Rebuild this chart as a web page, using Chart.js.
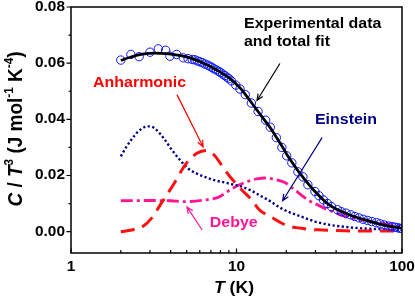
<!DOCTYPE html>
<html>
<head>
<meta charset="utf-8">
<script src="https://cdn.jsdelivr.net/npm/chart.js@4.4.0/dist/chart.umd.min.js"></script>
<style>
    html, body { margin: 0; padding: 0; background: #fff; }
</style>
</head>
<body>
<canvas id="myChart" width="415" height="300"></canvas>
<script>
// experimental C/T^3 points (T in K)
const expT = [2.0, 2.3, 2.58, 3.0, 3.37, 3.73, 3.96, 4.35, 4.77, 5.1, 5.4, 5.6, 5.8, 6.0, 6.2, 6.45, 6.7, 6.9, 7.1, 7.3,
    7.55, 7.8, 8.0, 8.25, 8.5, 8.75, 9.0, 9.3, 9.9, 10.5, 11.3, 12.3, 13.5, 15.0, 16.0, 17.4, 18.8, 20.1, 21.6, 23.5,
    25.2, 27.0, 29.8, 31.5, 33.5, 35.5, 37.5, 40.8, 43.0, 45.9, 49.0, 51.8, 55.0, 58.3, 62.0, 65.6, 70.0, 73.8, 78.0, 83.1,
    87.0, 90.8, 94.0, 97.0, 100];
const expC = [0.0611, 0.0631, 0.0623, 0.0639, 0.0651, 0.0646, 0.0625, 0.0631, 0.0619, 0.0616, 0.0613, 0.0612, 0.0608, 0.0605, 0.0602, 0.0597, 0.0593, 0.0589, 0.0585, 0.0580,
    0.0576, 0.0571, 0.0567, 0.0561, 0.0556, 0.0550, 0.0545, 0.0537, 0.0522, 0.0508, 0.0488, 0.0458, 0.0428, 0.0397, 0.0372, 0.0335, 0.0300, 0.0270, 0.0245, 0.0213,
    0.0195, 0.0167, 0.0143, 0.0128, 0.0113, 0.0100, 0.0089, 0.0078, 0.0071, 0.0066, 0.0060, 0.0054, 0.0049, 0.0044, 0.0040, 0.0036, 0.0032, 0.0028, 0.0024, 0.0020,
    0.0018, 0.0016, 0.0014, 0.0012, 0.0011];

// total fit
const fitT = [2.0, 2.3, 2.7, 3.2, 3.8, 4.5, 5.25, 6.0, 6.9, 7.9, 9.1, 10.5, 12.3, 13.5, 15.0, 16.0, 17.4, 18.8, 20.1, 21.6,
    23.5, 25.2, 27.0, 29.8, 33.5, 37.5, 40.8, 45.9, 51.8, 58.3, 65.6, 73.8, 83.1, 90.8, 100];
const fitC = [0.0610, 0.0622, 0.0632, 0.0636, 0.0634, 0.0628, 0.0619, 0.0606, 0.0589, 0.0570, 0.0546, 0.0512, 0.0460, 0.0428, 0.0392, 0.0370, 0.0336, 0.0305, 0.0276, 0.0248,
    0.0217, 0.0194, 0.0172, 0.0143, 0.0113, 0.0090, 0.0078, 0.0065, 0.0053, 0.0044, 0.0035, 0.0027, 0.0020, 0.0016, 0.0012];

// anharmonic part
const anhT = [2.0, 2.33, 2.74, 3.07, 3.5, 4.15, 4.5, 5.0, 5.8, 6.6, 7.3, 8.5, 9.3, 11.0, 12.1, 13.8, 16.0, 18.8, 21.2, 24.7, 27.8, 33, 45, 70, 100];
const anhC = [0.0000, 0.0006, 0.0020, 0.0048, 0.0100, 0.0167, 0.0203, 0.0245, 0.0280, 0.0289, 0.0274, 0.0220, 0.0190, 0.0143, 0.0119, 0.0077, 0.0054, 0.0030, 0.0018, 0.0012, 0.0008, 0.0006, 0.0003, 0.0002, 0.0002];

// Einstein part
const einT = [2.0, 2.15, 2.34, 2.55, 2.8, 2.93, 3.1, 3.3, 3.66, 4.06, 4.5, 5.1, 5.8, 6.5, 7.5, 8.5, 9.5, 10.8, 12.3, 14.1,
    15.5, 18.8, 21.5, 24.5, 29.8, 36, 45, 60, 80, 100];
const einC = [0.0268, 0.0300, 0.0331, 0.0357, 0.0373, 0.0375, 0.0373, 0.0361, 0.0330, 0.0292, 0.0259, 0.0225, 0.0206, 0.0194, 0.0182, 0.0175, 0.0168, 0.0160, 0.0146, 0.0126,
    0.0113, 0.0082, 0.0066, 0.0054, 0.0036, 0.0025, 0.0017, 0.0011, 0.0008, 0.0006];

// Debye part
const debT = [2.0, 3.0, 4.0, 4.9, 6.5, 7.8, 9.2, 10.5, 12.0, 13.5, 14.8, 17.0, 19.6, 21.5, 23.5, 27.0, 31.0, 35.0, 40.0, 47.0, 60.0, 75.0, 100];
const debC = [0.0110, 0.0111, 0.0110, 0.0107, 0.0113, 0.0123, 0.0150, 0.0168, 0.0181, 0.0189, 0.0191, 0.0186, 0.0175, 0.0158, 0.0140, 0.0113, 0.0095, 0.0080, 0.0066, 0.0051, 0.0040, 0.0030, 0.0020];

const xTicks = [1, 10, 100];
const xMinor = [2, 3, 4, 5, 6, 7, 8, 9, 20, 30, 40, 50, 60, 70, 80, 90];
const yTicks = [0, 0.02, 0.04, 0.06, 0.08];
const yMinor = [0.01, 0.03, 0.05, 0.07];

const FONT = '"Liberation Sans", Arial, sans-serif';
const SX = 1.1; // the reference picture is a bit wider than tall

function pts(ts, cs) {
    return ts.map((t, i) => ({ x: t, y: cs[i] }));
}

function runFont(r, size) {
    const s = r[1] === 's' ? size * 0.62 : size;
    return (r[1] === 'i' ? 'italic ' : '') + 'bold ' + s + 'px ' + FONT;
}

// draws a list of [text, style] runs, style '' normal, 'i' italic, 's' superscript
function drawRuns(ctx, runs, size, x, y, align, sx = SX) {
    const widths = runs.map(r => {
        ctx.font = runFont(r, size);
        return ctx.measureText(r[0]).width * sx;
    });
    const total = widths.reduce((a, b) => a + b, 0);
    let cx = align === 'center' ? x - total / 2 : align === 'right' ? x - total : x;
    runs.forEach((r, i) => {
        ctx.font = runFont(r, size);
        ctx.save();
        ctx.translate(cx, y - (r[1] === 's' ? size * 0.42 : 0));
        ctx.scale(sx, 1);
        ctx.textAlign = 'left';
        ctx.fillText(r[0], 0, 0);
        ctx.restore();
        cx += widths[i];
    });
}

function arrow(ctx, x1, y1, x2, y2, color) {
    const a = Math.atan2(y2 - y1, x2 - x1);
    const len = 7, spread = 0.4;
    ctx.strokeStyle = color;
    ctx.lineWidth = 1.2;
    ctx.beginPath();
    ctx.moveTo(x1, y1);
    ctx.lineTo(x2, y2);
    ctx.moveTo(x2 - len * Math.cos(a - spread), y2 - len * Math.sin(a - spread));
    ctx.lineTo(x2, y2);
    ctx.lineTo(x2 - len * Math.cos(a + spread), y2 - len * Math.sin(a + spread));
    ctx.stroke();
}

const labels = [
    { text: 'Experimental data', t: 11.1, c: 0.0726, color: '#000' },
    { text: 'and total fit', t: 11.1, c: 0.0660, color: '#000' },
    { text: 'Anharmonic', t: 1.36, c: 0.0516, color: '#ff0000' },
    { text: 'Einstein', t: 29.8, c: 0.0385, color: '#000080' },
    { text: 'Debye', t: 6.9, c: 0.0016, color: '#ff1493' },
];
const arrows = [
    { from: [18.3, 0.0599], to: [13.3, 0.0467], color: '#000' },
    { from: [4.37, 0.0488], to: [6.28, 0.0302], color: '#ff0000' },
    { from: [32.9, 0.0335], to: [19.0, 0.0110], color: '#000080' },
    { from: [6.2, 0.0006], to: [5.02, 0.0088], color: '#ff1493' },
];

const decor = {
    id: 'decor',
    afterDraw(chart) {
        const ctx = chart.ctx;
        const a = chart.chartArea;
        const xs = chart.scales.x, ys = chart.scales.y;
        ctx.save();
        ctx.strokeStyle = '#000';
        ctx.fillStyle = '#000';
        ctx.lineWidth = 1.5;
        ctx.strokeRect(a.left, a.top, a.right - a.left, a.bottom - a.top);

        ctx.lineWidth = 1.2;
        ctx.beginPath();
        yTicks.forEach(v => { const y = ys.getPixelForValue(v); ctx.moveTo(a.left - 4.5, y); ctx.lineTo(a.left, y); });
        yMinor.forEach(v => { const y = ys.getPixelForValue(v); ctx.moveTo(a.left - 2.5, y); ctx.lineTo(a.left, y); });
        xTicks.forEach(v => { const x = xs.getPixelForValue(v); ctx.moveTo(x, a.bottom); ctx.lineTo(x, a.bottom - 4.5); });
        xMinor.forEach(v => { const x = xs.getPixelForValue(v); ctx.moveTo(x, a.bottom); ctx.lineTo(x, a.bottom - 3); });
        ctx.stroke();

        ctx.textBaseline = 'middle';
        yTicks.forEach(v => drawRuns(ctx, [[v.toFixed(2), '']], 14, a.left - 6, ys.getPixelForValue(v), 'right'));
        ctx.textBaseline = 'alphabetic';
        xTicks.forEach(v => drawRuns(ctx, [[String(v), '']], 14, xs.getPixelForValue(v), a.bottom + 17.5, 'center'));

        drawRuns(ctx, [['T', 'i'], [' (K)', '']], 16, 234, 292.5, 'center');
        // rotated title: the wide stretch acts on glyph height here
        ctx.save();
        ctx.translate(21.7, 129);
        ctx.scale(SX, 1);
        ctx.rotate(-Math.PI / 2);
        drawRuns(ctx, [['C', 'i'], [' / ', ''], ['T', 'i'], ['3', 's'], [' (J mol', ''], ['-1', 's'], [' K', ''], ['-4', 's'], [')', '']], 19, 0, 0, 'center', 1);
        ctx.restore();

        labels.forEach(l => {
            ctx.fillStyle = l.color;
            drawRuns(ctx, [[l.text, '']], 14.5, xs.getPixelForValue(l.t), ys.getPixelForValue(l.c), 'left');
        });
        arrows.forEach(r => arrow(ctx,
            xs.getPixelForValue(r.from[0]), ys.getPixelForValue(r.from[1]),
            xs.getPixelForValue(r.to[0]), ys.getPixelForValue(r.to[1]), r.color));
        ctx.restore();
    }
};

const lineBase = { showLine: true, pointRadius: 0, cubicInterpolationMode: 'monotone', fill: false };

const config = {
    type: 'scatter',
    data: {
        datasets: [
            { ...lineBase, label: 'total fit', data: pts(fitT, fitC), borderColor: '#000', borderWidth: 2.8 },
            {
                label: 'Experimental data', data: pts(expT, expC), showLine: false,
                pointRadius: 4.2, pointBorderWidth: 1, pointBorderColor: '#0a14ff', pointBackgroundColor: 'rgba(0,0,0,0)'
            },
            { ...lineBase, label: 'Anharmonic', data: pts(anhT, anhC), borderColor: '#ff1010', borderWidth: 3, borderDash: [14, 8] },
            { ...lineBase, label: 'Einstein', data: pts(einT, einC), borderColor: '#00008b', borderWidth: 2.4, borderDash: [2.2, 2.4] },
            { ...lineBase, label: 'Debye', data: pts(debT, debC), borderColor: '#ff1493', borderWidth: 2.8, borderDash: [12, 4, 3, 4] },
        ]
    },
    options: {
        responsive: false,
        animation: false,
        devicePixelRatio: 1,
        layout: { padding: { left: 71, top: 7, right: 13, bottom: 47 } },
        scales: {
            x: { type: 'logarithmic', min: 1, max: 100, display: false },
            y: { type: 'linear', min: -0.0076, max: 0.08, display: false },
        },
        plugins: {
            legend: { display: false },
            tooltip: { enabled: false },
        }
    },
    plugins: [decor]
};

new Chart('myChart', config);
</script>
</body>
</html>
